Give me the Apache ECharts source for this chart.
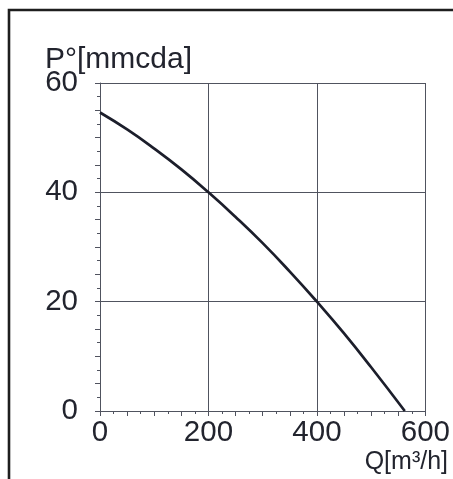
<!DOCTYPE html>
<html>
<head>
<meta charset="utf-8">
<script src="https://cdn.jsdelivr.net/npm/echarts@6/dist/echarts.min.js"></script>
<style>
html,body{margin:0;padding:0;background:#fff;}
#c{width:453px;height:479px;}
</style>
</head>
<body>
<div id="c"></div>
<script>
const qValues = [0, 50, 100, 150, 200, 250, 300, 350, 400, 450, 500, 562];
const pValues = [54.6, 51.5, 48.0, 44.2, 40.0, 35.5, 30.7, 25.5, 20.0, 14.2, 8.0, 0];
const xTicks = [0, 200, 400, 600];
const yTicks = [0, 20, 40, 60];
const xName = 'Q[m³/h]';
const yName = 'P°[mmcda]';

const textColor = '#22242e';
const gridColor = '#50535f';
const font = 'Liberation Sans, Arial, sans-serif';

const chart = echarts.init(document.getElementById('c'), null, {renderer: 'canvas'});
const curve = qValues.map((q, i) => [q, pValues[i]]);

function mainAxis(ticks, isX) {
  return {
    type: 'value',
    position: isX ? 'bottom' : 'left',
    min: ticks[0],
    max: ticks[ticks.length - 1],
    interval: ticks[1] - ticks[0],
    axisLine: {show: true, lineStyle: {color: gridColor, width: 1}},
    axisTick: {show: true, length: 5, lineStyle: {color: gridColor, width: 1}},
    minorTick: {show: true, splitNumber: 4, length: 5, lineStyle: {color: gridColor, width: 1}},
    splitLine: {show: true, lineStyle: {color: gridColor, width: 1}},
    axisLabel: {
      show: true, fontSize: 29.5, color: textColor, fontFamily: font,
      margin: isX ? 7 : 22
    }
  };
}
function minorAxis(ticks, isX) {
  return {
    type: 'value',
    position: isX ? 'bottom' : 'left',
    min: ticks[0],
    max: ticks[ticks.length - 1],
    interval: ticks[1] - ticks[0],
    axisLine: {show: false},
    axisTick: {show: false},
    minorTick: {show: true, splitNumber: 8, length: 3, lineStyle: {color: gridColor, width: 1}},
    splitLine: {show: false},
    axisLabel: {show: false}
  };
}

chart.setOption({
  animation: false,
  backgroundColor: '#ffffff',
  grid: {left: 100, top: 83, right: 25, bottom: 68, containLabel: false},
  xAxis: [mainAxis(xTicks, true), minorAxis(xTicks, true)],
  yAxis: [mainAxis(yTicks, false), minorAxis(yTicks, false)],
  series: [{
    type: 'line',
    xAxisIndex: 0,
    yAxisIndex: 0,
    data: curve,
    smooth: 0.5,
    showSymbol: false,
    lineStyle: {color: '#1c1e2b', width: 2.7}
  }],
  graphic: [
    {
      type: 'polyline',
      shape: {points: [[9, 479], [9, 10], [453, 10]]},
      style: {stroke: '#1e1e1e', lineWidth: 2.6, fill: null}
    },
    {
      type: 'text', left: 45, top: 45,
      style: {text: yName, fontSize: 30, fill: textColor, fontFamily: font}
    },
    {
      type: 'text', right: 5, top: 450,
      style: {text: xName, fontSize: 25, fill: textColor, fontFamily: font}
    }
  ]
});
</script>
</body>
</html>
